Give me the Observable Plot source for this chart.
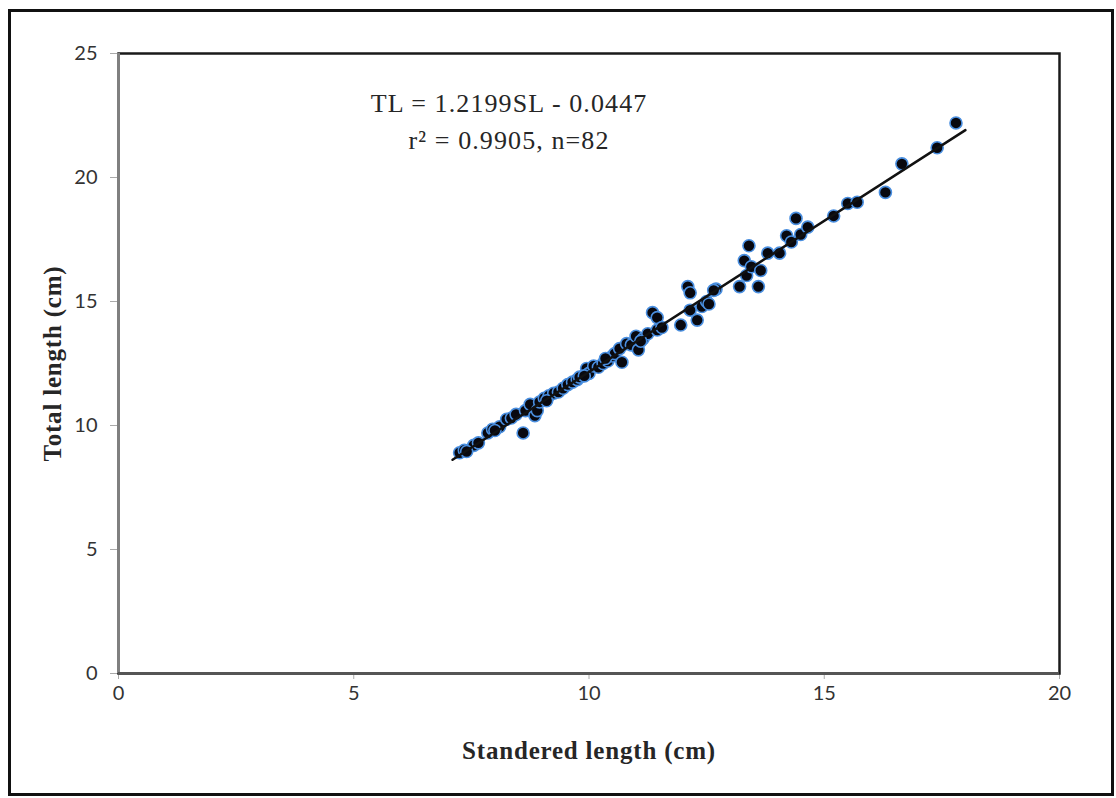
<!DOCTYPE html>
<html><head><meta charset="utf-8">
<script src="https://cdn.jsdelivr.net/npm/d3@7"></script>
<script src="https://cdn.jsdelivr.net/npm/@observablehq/plot@0.6"></script>
<style>
html,body{margin:0;padding:0;background:#fff;}
#wrap{position:relative;width:1116px;height:798px;overflow:hidden;}
#border{position:absolute;left:8px;top:9px;width:1106px;height:787px;box-sizing:border-box;border:3px solid #111;pointer-events:none;}
#chart{position:absolute;left:0;top:0;}
</style></head><body>
<div id="wrap"><div id="chart"></div><div id="border"></div></div>
<script>
// Standard length (cm) and total length (cm)
const SL = [7.25,7.35,7.55,7.65,7.85,7.95,8.1,8.25,8.35,8.45,
            8.6,8.65,8.75,8.85,8.9,8.95,9.05,9.15,9.25,9.35,
            9.45,9.55,9.65,9.75,9.8,9.95,10.0,10.1,10.2,10.3,
            10.4,10.5,10.55,10.65,10.7,10.8,10.9,11.0,11.05,11.15,
            11.25,11.35,11.45,11.45,11.55,11.95,12.1,12.15,12.15,12.3,
            12.4,12.5,12.55,12.7,13.2,13.3,13.4,13.35,13.45,13.6,
            13.65,13.8,14.05,14.2,14.3,14.4,14.5,14.65,15.2,15.5,
            15.7,16.3,16.65,17.4,17.8,7.4,8.0,9.1,9.9,10.35,
            11.1,12.65];
const TL = [8.9,9.0,9.2,9.3,9.7,9.85,9.95,10.25,10.3,10.45,
            9.7,10.6,10.85,10.4,10.6,10.95,11.1,11.2,11.3,11.35,
            11.5,11.65,11.75,11.85,11.95,12.3,12.1,12.4,12.35,12.5,
            12.6,12.8,12.9,13.1,12.55,13.3,13.25,13.6,13.05,13.5,
            13.7,14.55,14.35,13.85,13.95,14.05,15.6,15.35,14.65,14.25,
            14.8,15.0,14.9,15.5,15.6,16.65,17.25,16.05,16.4,15.6,
            16.25,16.95,16.95,17.65,17.4,18.35,17.7,18.0,18.45,18.95,
            19.0,19.4,20.55,21.2,22.2,8.95,9.8,11.0,12.0,12.7,
            13.4,15.45];
// Regression line end points
const fitSL = [7.1, 18.0];
const fitTL = [8.62, 21.91];
const xTicks = [0, 5, 10, 15, 20];
const yTicks = [0, 5, 10, 15, 20, 25];
const equation = "TL = 1.2199SL - 0.0447";
const stats = "r\u00B2 = 0.9905, n=82";
const xTitle = "Standered length (cm)";
const yTitle = "Total length (cm)";

const pts = SL.map((s, i) => ({SL: s, TL: TL[i]}));
const fit = fitSL.map((s, i) => ({SL: s, TL: fitTL[i]}));
const serif = "'Liberation Serif', 'DejaVu Serif', serif";

const plot = Plot.plot({
  width: 1116, height: 798,
  marginLeft: 118, marginRight: 57, marginTop: 53, marginBottom: 125,
  x: {domain: [0, 20]},
  y: {domain: [0, 25]},
  style: {fontFamily: "Lato, 'Open Sans', sans-serif", fontSize: "20px", color: "#333", background: "transparent"},
  marks: [
    Plot.axisX({ticks: xTicks, tickSize: 6, tickPadding: 6, stroke: "#aaa", label: null, fontSize: 20}),
    Plot.axisY({ticks: yTicks, tickSize: 8, tickPadding: 13, stroke: "#aaa", label: null, fontSize: 20}),
    Plot.frame({stroke: "#1a1a1a", strokeWidth: 2.5}),
    Plot.ruleX([0], {stroke: "#808080", strokeWidth: 3}),
    Plot.ruleY([0], {stroke: "#555", strokeWidth: 3}),
    Plot.dot(pts, {x: "SL", y: "TL", r: 6, fill: "#08080f", stroke: "#4a8fe0", strokeWidth: 1.6}),
    Plot.line(fit, {x: "SL", y: "TL", stroke: "#111", strokeWidth: 2.5}),
    Plot.text([equation], {frameAnchor: "top", dx: -80, dy: 50, textAnchor: "middle", lineAnchor: "middle",
      fontFamily: serif, fontSize: 26, fill: "#262626"}),
    Plot.text([stats], {frameAnchor: "top", dx: -80, dy: 87, textAnchor: "middle", lineAnchor: "middle",
      fontFamily: serif, fontSize: 26, fill: "#262626"}),
    Plot.text([xTitle], {frameAnchor: "bottom", dy: 77, textAnchor: "middle", lineAnchor: "middle",
      fontFamily: serif, fontWeight: "bold", fontSize: 25, fill: "#262626"}),
    Plot.text([yTitle], {frameAnchor: "left", dx: -66, rotate: -90, textAnchor: "middle", lineAnchor: "middle",
      fontFamily: serif, fontWeight: "bold", fontSize: 25, fill: "#262626"})
  ]
});

d3.select(plot).selectAll("text").each(function() {
  const t = this.textContent;
  if (t === equation || t === stats) this.setAttribute("letter-spacing", "1.1");
  if (t === xTitle || t === yTitle) this.setAttribute("letter-spacing", "0.8");
});
document.getElementById("chart").appendChild(plot);
</script>
</body></html>
